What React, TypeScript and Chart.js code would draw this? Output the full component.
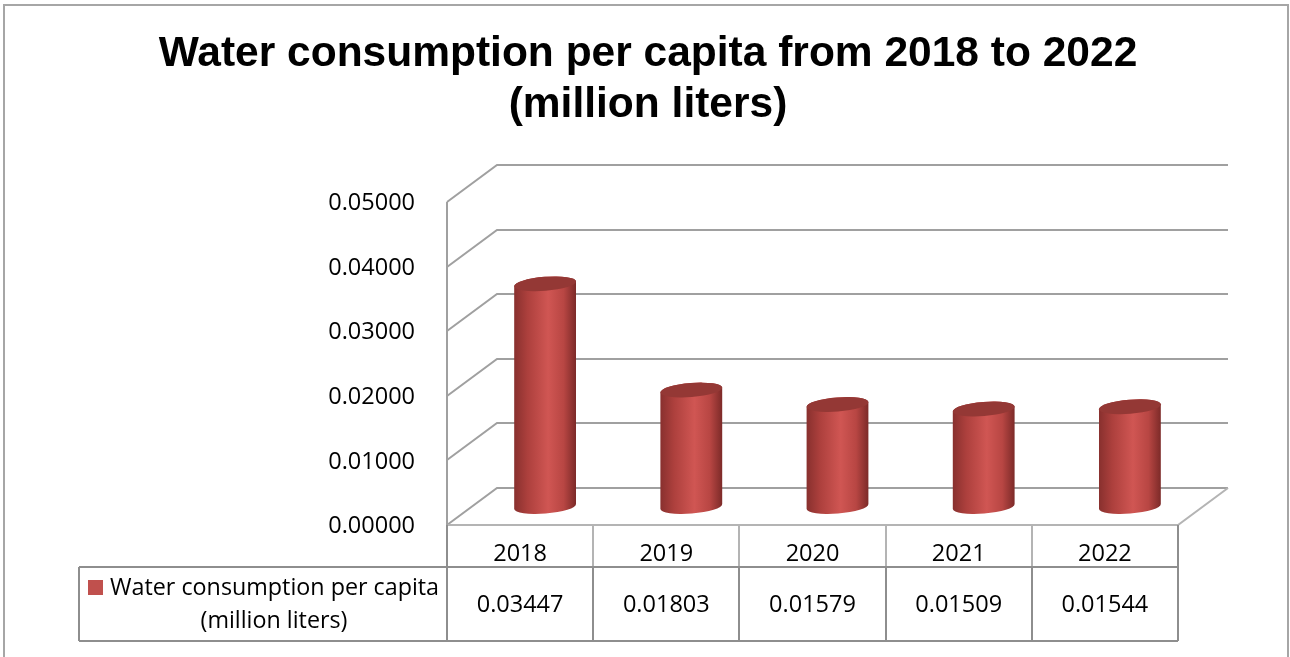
import React, { useEffect, useRef } from "react";
import { Chart, registerables } from "chart.js";

Chart.register(...registerables);

const titleLines = ["Water consumption per capita from 2018 to 2022", "(million liters)"];
const categories = ["2018", "2019", "2020", "2021", "2022"];
const values = [0.03447, 0.01803, 0.01579, 0.01509, 0.01544];
const valueLabels = ["0.03447", "0.01803", "0.01579", "0.01509", "0.01544"];
const yTicks = [0, 0.01, 0.02, 0.03, 0.04, 0.05];
const yTickLabels = ["0.00000", "0.01000", "0.02000", "0.03000", "0.04000", "0.05000"];
const seriesName = "Water consumption per capita (million liters)";
const legendLines = ["Water consumption per capita", "(million liters)"];

const DX = 50;
const DY = -37;
const FONT = '"Open Sans", "Noto Sans", sans-serif';
const GRID = "#a0a0a0";
const TABLE = "#8e8e8e";
const BAR = "#c0504d";

const chart3d = {
  id: "chart3d",
  beforeDraw(chart: any) {
    const { ctx, width, height } = chart;
    ctx.save();
    ctx.fillStyle = "#ffffff";
    ctx.fillRect(0, 0, width, height);
    ctx.strokeStyle = "#a6a6a6";
    ctx.lineWidth = 2;
    ctx.strokeRect(4, 5, 1284, 700);
    ctx.fillStyle = "#000000";
    ctx.font = 'bold 42.5px "Liberation Sans", Arial, sans-serif';
    ctx.textAlign = "center";
    ctx.textBaseline = "alphabetic";
    ctx.fillText(titleLines[0], 648, 66);
    ctx.fillText(titleLines[1], 648, 117);
    ctx.restore();
  },
  beforeDatasetsDraw(chart: any) {
    const { ctx, chartArea } = chart;
    const y = chart.scales.y;
    const left = chartArea.left;
    const right = chartArea.right;
    ctx.save();
    ctx.lineWidth = 2;
    ctx.strokeStyle = GRID;
    ctx.lineJoin = "miter";
    yTicks.forEach((t, i) => {
      const yf = Math.round(y.getPixelForValue(t));
      if (i === 0) return;
      ctx.beginPath();
      ctx.moveTo(left, yf);
      ctx.lineTo(left + DX, yf + DY);
      ctx.lineTo(right + DX, yf + DY);
      ctx.stroke();
    });
    // floor
    const y0 = Math.round(y.getPixelForValue(0));
    ctx.beginPath();
    ctx.moveTo(left, y0);
    ctx.lineTo(left + DX, y0 + DY);
    ctx.lineTo(right + DX, y0 + DY);
    ctx.stroke();
    ctx.strokeStyle = "#b4b4b4";
    ctx.beginPath();
    ctx.moveTo(left, y0);
    ctx.lineTo(right, y0);
    ctx.lineTo(right + DX, y0 + DY);
    ctx.stroke();
    // left wall vertical
    ctx.strokeStyle = GRID;
    ctx.beginPath();
    ctx.moveTo(left, Math.round(y.getPixelForValue(yTicks[yTicks.length - 1])));
    ctx.lineTo(left, y0);
    ctx.stroke();
    // tick labels
    ctx.fillStyle = "#000000";
    ctx.font = `23.5px ${FONT}`;
    ctx.textAlign = "right";
    ctx.textBaseline = "middle";
    yTicks.forEach((t, i) => {
      ctx.fillText(yTickLabels[i], 415, y.getPixelForValue(t) + 1.5);
    });
    ctx.restore();
  },
  afterDatasetsDraw(chart: any) {
    const { ctx, chartArea } = chart;
    const x = chart.scales.x;
    const y = chart.scales.y;
    const left = chartArea.left;
    const right = chartArea.right;
    const y0 = Math.round(y.getPixelForValue(0));
    const rx = 31;
    const ry = 7;
    const rot = -0.08;
    ctx.save();
    values.forEach((v, i) => {
      const cx = x.getPixelForValue(i) + DX / 2;
      const yTop = y.getPixelForValue(v) + DY / 2;
      const yBot = y.getPixelForValue(0) + DY / 2;
      const g = ctx.createLinearGradient(cx - rx, 0, cx + rx, 0);
      g.addColorStop(0, "#88302e");
      g.addColorStop(0.22, "#ad403d");
      g.addColorStop(0.55, "#d05653");
      g.addColorStop(0.8, "#b84643");
      g.addColorStop(1, "#7c2a28");
      ctx.beginPath();
      ctx.ellipse(cx, yBot, rx, ry, rot, 0, Math.PI, false);
      ctx.ellipse(cx, yTop, rx, ry, rot, Math.PI, Math.PI * 2, false);
      ctx.closePath();
      ctx.fillStyle = g;
      ctx.fill();
      ctx.beginPath();
      ctx.ellipse(cx, yTop, rx, ry, rot, 0, Math.PI * 2);
      ctx.fillStyle = "#943835";
      ctx.fill();
    });

    // data table
    const w = (right - left) / categories.length;
    const r1 = y0 + 42;
    const r2 = r1 + 74;
    const legLeft = 79;
    ctx.lineWidth = 2;
    ctx.strokeStyle = "#b4b4b4";
    for (let i = 1; i < categories.length; i++) {
      const xx = Math.round(left + i * w);
      ctx.beginPath();
      ctx.moveTo(xx, y0);
      ctx.lineTo(xx, r1);
      ctx.stroke();
    }
    ctx.strokeStyle = TABLE;
    ctx.beginPath();
    ctx.moveTo(left, y0);
    ctx.lineTo(left, r2);
    ctx.moveTo(right, y0);
    ctx.lineTo(right, r2);
    ctx.moveTo(legLeft, r1);
    ctx.lineTo(right, r1);
    ctx.moveTo(legLeft, r2);
    ctx.lineTo(right, r2);
    ctx.moveTo(legLeft, r1);
    ctx.lineTo(legLeft, r2);
    for (let i = 1; i < categories.length; i++) {
      const xx = Math.round(left + i * w);
      ctx.moveTo(xx, r1);
      ctx.lineTo(xx, r2);
    }
    ctx.stroke();

    ctx.fillStyle = "#000000";
    ctx.font = `23.5px ${FONT}`;
    ctx.textAlign = "center";
    ctx.textBaseline = "middle";
    categories.forEach((c, i) => {
      const cx = x.getPixelForValue(i);
      ctx.fillText(c, cx, y0 + 29);
      ctx.fillText(valueLabels[i], cx, (r1 + r2) / 2 + 1);
    });

    // legend cell
    ctx.fillStyle = BAR;
    ctx.fillRect(88, r1 + 13, 15, 15);
    ctx.fillStyle = "#000000";
    ctx.font = `23.3px ${FONT}`;
    ctx.textAlign = "left";
    ctx.fillText(legendLines[0], 110, r1 + 21);
    ctx.textAlign = "center";
    ctx.fillText(legendLines[1], 274, r1 + 54);
    ctx.restore();
  },
};

export default function App() {
  const ref = useRef<HTMLCanvasElement>(null);
  useEffect(() => {
    if (!ref.current) return;
    const chart = new Chart(ref.current, {
      type: "bar",
      data: {
        labels: categories,
        datasets: [
          {
            label: seriesName,
            data: values,
            backgroundColor: "rgba(0,0,0,0)",
            borderWidth: 0,
          },
        ],
      },
      options: {
        responsive: false,
        maintainAspectRatio: false,
        animation: false,
        devicePixelRatio: 1,
        layout: { padding: { left: 447, right: 112, top: 202, bottom: 132 } },
        scales: {
          x: { display: false, offset: true },
          y: { display: false, min: 0, max: 0.05 },
        },
        plugins: {
          legend: { display: false },
          title: { display: false },
          tooltip: { enabled: false },
        },
      },
      plugins: [chart3d],
    });
    return () => chart.destroy();
  }, []);
  return (
    <div style={{ position: "fixed", left: 0, top: 0, width: 1290, height: 657 }}>
      <canvas ref={ref} width={1290} height={657} style={{ display: "block" }} />
    </div>
  );
}
